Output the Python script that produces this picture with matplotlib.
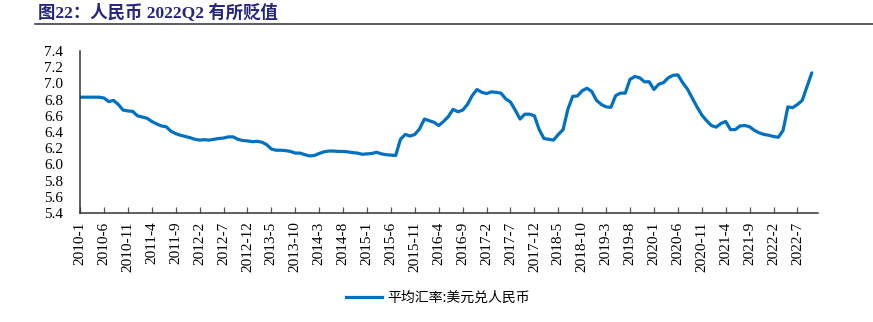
import numpy as np
import matplotlib
matplotlib.use("Agg")
import matplotlib.pyplot as plt
from matplotlib.lines import Line2D

# ── data: monthly average USD/CNY, 2010-01 .. 2022-10 ──────────────────────────
years = list(range(2010, 2023))
rate_2010 = [6.83, 6.83, 6.83, 6.83, 6.83, 6.82, 6.775, 6.79, 6.74, 6.67, 6.66, 6.655]
rate_2011 = [6.60, 6.585, 6.57, 6.53, 6.50, 6.475, 6.465, 6.41, 6.38, 6.36, 6.345, 6.33]
rate_2012 = [6.31, 6.30, 6.305, 6.30, 6.31, 6.32, 6.325, 6.34, 6.34, 6.31, 6.295, 6.29]
rate_2013 = [6.28, 6.285, 6.275, 6.245, 6.19, 6.175, 6.175, 6.17, 6.16, 6.14, 6.14, 6.12]
rate_2014 = [6.105, 6.11, 6.135, 6.155, 6.165, 6.165, 6.16, 6.16, 6.155, 6.145, 6.14, 6.125]
rate_2015 = [6.13, 6.135, 6.15, 6.13, 6.12, 6.115, 6.11, 6.31, 6.37, 6.35, 6.37, 6.44]
rate_2016 = [6.56, 6.54, 6.52, 6.48, 6.53, 6.59, 6.68, 6.65, 6.67, 6.74, 6.85, 6.925]
rate_2017 = [6.89, 6.875, 6.895, 6.89, 6.88, 6.81, 6.77, 6.67, 6.56, 6.62, 6.62, 6.60]
rate_2018 = [6.43, 6.32, 6.31, 6.30, 6.37, 6.43, 6.68, 6.84, 6.845, 6.91, 6.94, 6.90]
rate_2019 = [6.79, 6.74, 6.71, 6.705, 6.85, 6.88, 6.88, 7.05, 7.085, 7.07, 7.02, 7.02]
rate_2020 = [6.925, 6.99, 7.01, 7.07, 7.10, 7.105, 7.01, 6.93, 6.82, 6.71, 6.61, 6.54]
rate_2021 = [6.48, 6.46, 6.505, 6.53, 6.43, 6.43, 6.475, 6.48, 6.465, 6.42, 6.39, 6.37]
rate_2022 = [6.36, 6.345, 6.335, 6.42, 6.71, 6.70, 6.74, 6.79, 6.96, 7.13]

rates = np.array(rate_2010 + rate_2011 + rate_2012 + rate_2013 + rate_2014 +
                 rate_2015 + rate_2016 + rate_2017 + rate_2018 + rate_2019 +
                 rate_2020 + rate_2021 + rate_2022)
months = [f"{y}-{m}" for y in years for m in range(1, 13)][:len(rates)]

y_ticks = [5.4, 5.6, 5.8, 6.0, 6.2, 6.4, 6.6, 6.8, 7.0, 7.2, 7.4]

title = "图22：人民币 2022Q2 有所贬值"
legend_label = "平均汇率:美元兑人民币"

LINE_BLUE = "#0070C0"
TITLE_NAVY = "#25257F"
SERIF = ["Liberation Serif", "Noto Sans CJK SC"]
CJK = ["Noto Sans CJK SC", "DejaVu Sans"]

plt.rcParams["font.family"] = SERIF

# ── figure ─────────────────────────────────────────────────────────────────────
fig = plt.figure(figsize=(8.73, 3.22), dpi=100)
ax = fig.add_axes([0.0917, 0.3385, 0.8453, 0.5031])

x = np.arange(len(rates))
ax.plot(x, rates, color=LINE_BLUE, lw=2.3, solid_joinstyle="round",
        solid_capstyle="round")

ax.set_ylim(5.4, 7.4)
ax.set_yticks(y_ticks)
ax.set_yticklabels([f"{v:.1f}" for v in y_ticks], fontsize=11)
ax.set_xlim(0, len(rates) + 0.3)
tick_pos = x[::5]
ax.set_xticks(tick_pos)
ax.set_xticklabels([months[i] for i in tick_pos], rotation=90, fontsize=11)

for side in ("top", "right"):
    ax.spines[side].set_visible(False)
for side in ("left", "bottom"):
    ax.spines[side].set_color("#333333")
    ax.spines[side].set_linewidth(1.1)

ax.tick_params(axis="y", length=0, pad=12, colors="black")
ax.tick_params(axis="x", direction="in", length=4, width=0.9,
               color="#555555", pad=6, labelcolor="black")

# ── title with rule underneath ─────────────────────────────────────────────────
fig.text(38 / 873, 1 - 12 / 322, title, ha="left", va="center",
         fontsize=12.5, fontweight="bold", color=TITLE_NAVY,
         family=["Liberation Serif", "Noto Sans CJK SC"])
fig.add_artist(Line2D([35 / 873, 1.0], [1 - 23.5 / 322] * 2,
                      transform=fig.transFigure, color="#404040", lw=1.2))

# ── legend ─────────────────────────────────────────────────────────────────────
handle = Line2D([], [], color=LINE_BLUE, lw=2.3)
fig.legend([handle], [legend_label], loc="center",
           bbox_to_anchor=(438 / 873, 1 - 298 / 322), frameon=False,
           prop={"family": CJK, "size": 10}, handlelength=2.6,
           handletextpad=0.4)

fig.savefig("out.png", dpi=100)
plt.close(fig)
